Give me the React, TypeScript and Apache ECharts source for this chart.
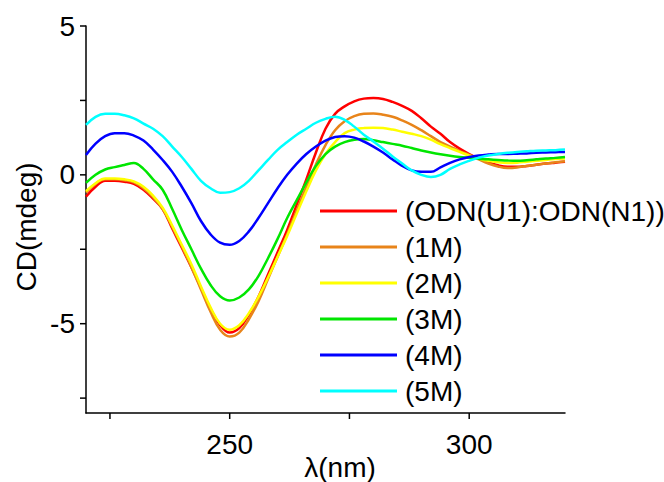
import React, { useEffect, useRef } from "react";
import * as echarts from "echarts";

const wavelengths = [
  220, 222, 224, 226, 228, 230, 232, 234, 236, 238, 240, 242, 244, 246, 248, 250,
  252, 254, 256, 258, 260, 262, 264, 266, 268, 270, 272, 274, 276, 278, 280, 282,
  284, 286, 288, 290, 292, 294, 296, 298, 300, 302, 304, 306, 308, 310, 312, 314,
  316, 318, 320,
];

const seriesNames = ["(ODN(U1):ODN(N1))", "(1M)", "(2M)", "(3M)", "(4M)", "(5M)"];
const seriesColors = ["#ff0000", "#e8841a", "#ffff00", "#00e600", "#0000ff", "#00ffff"];

const odnU1N1 = [
  -0.73, -0.4, -0.2, -0.2, -0.23, -0.3, -0.5, -0.8, -1.15, -1.8, -2.45, -3.1, -3.8, -4.5, -5.05, -5.3,
  -5.15, -4.7, -4.1, -3.35, -2.6, -1.85, -1.0, -0.15, 0.75, 1.55, 2.05, 2.3, 2.47, 2.56, 2.58, 2.55,
  2.45, 2.32, 2.15, 1.9, 1.62, 1.38, 1.1, 0.88, 0.7, 0.55, 0.42, 0.32, 0.27, 0.27, 0.3, 0.34,
  0.38, 0.41, 0.44,
];
const m1 = [
  -0.6, -0.3, -0.15, -0.15, -0.18, -0.25, -0.45, -0.75, -1.15, -1.75, -2.4, -3.1, -3.85, -4.6, -5.2, -5.43,
  -5.3, -4.85, -4.25, -3.5, -2.75, -2.0, -1.2, -0.4, 0.35, 1.0, 1.5, 1.8, 1.97, 2.05, 2.06, 2.02,
  1.95, 1.83, 1.68, 1.5, 1.3, 1.1, 0.95, 0.8, 0.67, 0.52, 0.38, 0.28, 0.23, 0.25, 0.3, 0.34,
  0.38, 0.42, 0.46,
];
const m2 = [
  -0.55, -0.28, -0.12, -0.12, -0.15, -0.22, -0.4, -0.7, -1.1, -1.7, -2.35, -3.0, -3.75, -4.45, -5.0, -5.2,
  -5.05, -4.65, -4.1, -3.45, -2.75, -2.05, -1.3, -0.55, 0.15, 0.7, 1.1, 1.4, 1.52, 1.57, 1.58, 1.57,
  1.52, 1.45, 1.38, 1.3, 1.18, 1.03, 0.9, 0.77, 0.65, 0.55, 0.47, 0.42, 0.4, 0.41, 0.44, 0.47,
  0.5, 0.53, 0.55,
];
const m3 = [
  -0.27, 0.0, 0.18, 0.26, 0.33, 0.4, 0.2, -0.15, -0.5, -1.15, -1.85, -2.5, -3.15, -3.7, -4.08, -4.22,
  -4.12, -3.85, -3.4, -2.8, -2.15, -1.45, -0.85, -0.25, 0.3, 0.7, 0.95, 1.1, 1.18, 1.2, 1.16, 1.1,
  1.04, 0.98, 0.9, 0.82, 0.75, 0.69, 0.64, 0.6, 0.57, 0.54, 0.52, 0.5, 0.48, 0.47, 0.49, 0.52,
  0.55, 0.57, 0.6,
];
const m4 = [
  0.67, 1.05, 1.3, 1.4, 1.4, 1.32, 1.15, 0.85, 0.5, 0.1, -0.4, -0.95, -1.55, -2.0, -2.28, -2.35,
  -2.22, -1.9, -1.45, -0.95, -0.45, 0.0, 0.38, 0.7, 0.95, 1.15, 1.27, 1.3, 1.25, 1.12, 0.95, 0.75,
  0.52, 0.3, 0.15, 0.1, 0.1, 0.25, 0.4, 0.52, 0.6, 0.65, 0.68, 0.7, 0.7, 0.71, 0.72, 0.74,
  0.75, 0.76, 0.77,
];
const m5 = [
  1.68, 1.95, 2.05, 2.05, 2.0, 1.9, 1.72, 1.55, 1.3, 0.95, 0.6, 0.2, -0.2, -0.45, -0.6, -0.58,
  -0.45, -0.2, 0.15, 0.5, 0.84, 1.1, 1.35, 1.55, 1.75, 1.88, 1.95, 1.85, 1.62, 1.35, 1.12, 0.88,
  0.62, 0.38, 0.15, 0.0, -0.07, 0.0, 0.2, 0.35, 0.47, 0.58, 0.65, 0.7, 0.74, 0.77, 0.79, 0.81,
  0.82, 0.83, 0.85,
];
const allSeries = [odnU1N1, m1, m2, m3, m4, m5];

const xMin = 220;
const xMax = 320;
const yMin = -8;
const yMax = 5;
const xTickValues = [225, 250, 275, 300];
const xLabelValues = [250, 300];
const yTickValues = [-7.5, -5, -2.5, 0, 2.5, 5];
const yLabelValues = [-5, 0, 5];

const FONT = "Liberation Sans, Arial, sans-serif";
const TICK_LEN = 6;

export default function App() {
  const ref = useRef<HTMLDivElement>(null);
  useEffect(() => {
    document.body.style.margin = "0";
    if (!ref.current) return;
    const chart = echarts.init(ref.current, null, { renderer: "svg" });
    const tickStyle = { stroke: "#000", lineWidth: 1.5 };
    chart.setOption({
      animation: false,
      backgroundColor: "#fff",
      grid: { left: 86, right: 99, top: 26, bottom: 69, containLabel: false },
      xAxis: {
        type: "value",
        min: xMin,
        max: xMax,
        axisLine: { show: true, onZero: false, lineStyle: { color: "#000", width: 1.5 } },
        splitLine: { show: false },
        axisTick: { show: false },
        axisLabel: {
          customValues: xLabelValues,
          fontSize: 28,
          fontFamily: FONT,
          color: "#000",
          margin: 17,
        },
      },
      yAxis: {
        type: "value",
        min: yMin,
        max: yMax,
        axisLine: { show: true, onZero: false, lineStyle: { color: "#000", width: 1.5 } },
        splitLine: { show: false },
        axisTick: { show: false },
        axisLabel: {
          customValues: yLabelValues,
          fontSize: 28,
          fontFamily: FONT,
          color: "#000",
          margin: 11,
        },
      },
      legend: {
        orient: "vertical",
        left: 315,
        top: 192,
        itemWidth: 77,
        itemHeight: 3,
        itemGap: 8,
        icon: "rect",
        textStyle: { fontSize: 28, fontFamily: FONT, color: "#000", padding: [0, 0, 0, 3] },
        data: seriesNames,
      },
      graphic: [
        {
          type: "text",
          x: 26,
          y: 227,
          rotation: Math.PI / 2,
          style: {
            text: "CD(mdeg)",
            font: `28px ${FONT}`,
            fill: "#000",
            align: "center",
            verticalAlign: "middle",
          },
        },
        {
          type: "text",
          x: 340,
          y: 467,
          style: {
            text: "λ(nm)",
            font: `28px ${FONT}`,
            fill: "#000",
            align: "center",
            verticalAlign: "middle",
          },
        },
      ],
      series: [
        ...allSeries.map((vals, i) => ({
          name: seriesNames[i],
          type: "line",
          smooth: 0.4,
          symbol: "none",
          lineStyle: { color: seriesColors[i], width: 2.5 },
          itemStyle: { color: seriesColors[i] },
          data: wavelengths.map((w, j) => [w, vals[j]]),
        })),
        {
          name: "xTicks",
          type: "custom",
          silent: true,
          clip: false,
          data: xTickValues.map((v) => [v, yMin]),
          renderItem: (params: any, api: any) => {
            const p = api.coord([api.value(0), api.value(1)]);
            return {
              type: "line",
              shape: { x1: p[0], y1: p[1], x2: p[0], y2: p[1] + TICK_LEN },
              style: tickStyle,
            };
          },
        },
        {
          name: "yTicks",
          type: "custom",
          silent: true,
          clip: false,
          data: yTickValues.map((v) => [xMin, v]),
          renderItem: (params: any, api: any) => {
            const p = api.coord([api.value(0), api.value(1)]);
            return {
              type: "line",
              shape: { x1: p[0] - TICK_LEN, y1: p[1], x2: p[0], y2: p[1] },
              style: tickStyle,
            };
          },
        },
      ],
    });
    return () => chart.dispose();
  }, []);
  return <div ref={ref} style={{ width: 664, height: 482 }} />;
}
